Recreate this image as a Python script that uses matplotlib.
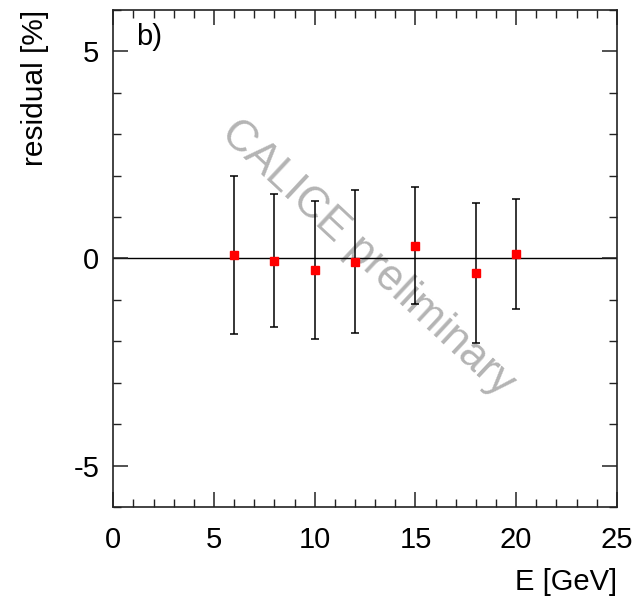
import matplotlib
matplotlib.use("Agg")
import matplotlib.pyplot as plt
from matplotlib.ticker import MultipleLocator

plt.rcParams['font.family'] = ['Liberation Sans', 'DejaVu Sans']
plt.rcParams['axes.unicode_minus'] = False

# Beam energy and relative residual with uncertainty
energy = [6, 8, 10, 12, 15, 18, 20]
residual = [0.08, -0.05, -0.28, -0.08, 0.31, -0.35, 0.10]
residual_err = [1.90, 1.60, 1.67, 1.73, 1.42, 1.70, 1.33]

x_ticks = [0, 5, 10, 15, 20, 25]
y_ticks = [-5, 0, 5]

fig = plt.figure(figsize=(6.34, 5.97), dpi=100)
ax = fig.add_axes([0.1787, 0.1508, 0.7943, 0.8325])

ax.axhline(0, color='black', lw=1.0, zorder=1)
ax.errorbar(energy, residual, yerr=residual_err, fmt='s', color='red',
            ms=5.2, mec='red', ecolor='black', elinewidth=1.1,
            capsize=3, capthick=1.1, zorder=3)

ax.set_xlim(0, 25)
ax.set_ylim(-6, 6)
ax.set_xticks(x_ticks)
ax.set_yticks(y_ticks)
ax.xaxis.set_minor_locator(MultipleLocator(1))
ax.yaxis.set_minor_locator(MultipleLocator(1))
ax.tick_params(which='major', direction='in', length=11, width=1.1,
               top=True, right=True, labelsize=21, color='#222222')
ax.tick_params(which='minor', direction='in', length=6, width=1.0,
               top=True, right=True, color='#222222')
ax.tick_params(axis='x', which='major', pad=14)
ax.tick_params(axis='y', which='major', pad=10)
for s in ax.spines.values():
    s.set_linewidth(1.2)
    s.set_color('#222222')

ax.set_xlabel('E [GeV]', fontsize=21, loc='right', labelpad=10)
ax.set_ylabel('residual [%]', fontsize=21.5, loc='top', labelpad=18)

ax.text(0.045, 0.945, 'b)', transform=ax.transAxes, fontsize=21,
        ha='left', va='center')

ax.text(0.505, 0.50, 'CALICE preliminary', transform=ax.transAxes,
        fontsize=31.5, color='#b4b4b4', rotation=-43, ha='center',
        va='center', rotation_mode='anchor', zorder=0)

fig.savefig('out.png', dpi=100)
